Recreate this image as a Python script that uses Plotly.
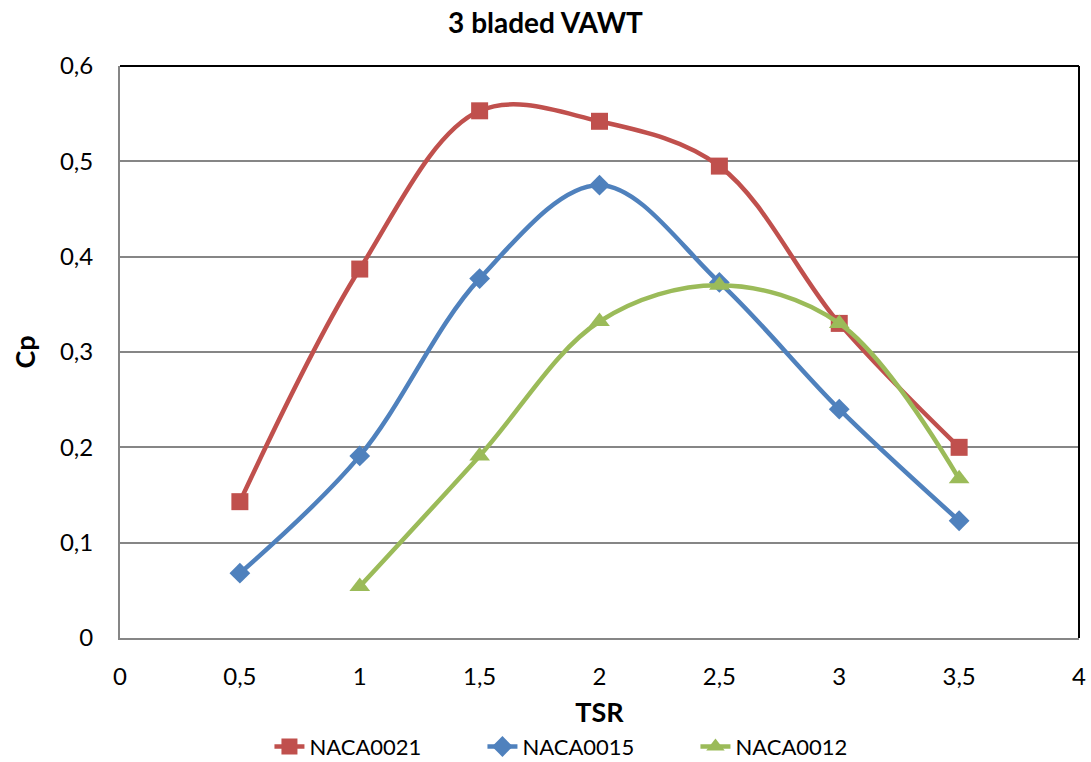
import plotly.graph_objects as go

tsr = [0.5, 1, 1.5, 2, 2.5, 3, 3.5]
naca0021 = [0.143, 0.387, 0.553, 0.542, 0.495, 0.330, 0.200]
naca0015 = [0.068, 0.191, 0.377, 0.475, 0.373, 0.240, 0.123]
tsr_0012 = [1, 1.5, 2, 2.5, 3, 3.5]
naca0012 = [0.054, 0.191, 0.332, 0.370, 0.330, 0.167]

x_ticks = [0, 0.5, 1, 1.5, 2, 2.5, 3, 3.5, 4]
x_labels = ["0", "0,5", "1", "1,5", "2", "2,5", "3", "3,5", "4"]
y_ticks = [0, 0.1, 0.2, 0.3, 0.4, 0.5, 0.6]
y_labels = ["0", "0,1", "0,2", "0,3", "0,4", "0,5", "0,6"]

FONT = "Lato, Open Sans, sans-serif"

fig = go.Figure()
fig.add_trace(go.Scatter(x=tsr, y=naca0021, name="NACA0021", mode="lines+markers",
                         line=dict(color="#C0504D", width=4.5, shape="spline"),
                         marker=dict(symbol="square", size=17, color="#C0504D")))
fig.add_trace(go.Scatter(x=tsr, y=naca0015, name="NACA0015", mode="lines+markers",
                         line=dict(color="#4F81BD", width=4.5, shape="spline"),
                         marker=dict(symbol="diamond", size=16, color="#4F81BD")))
fig.add_trace(go.Scatter(x=tsr_0012, y=naca0012, name="NACA0012", mode="lines+markers",
                         line=dict(color="#9BBB59", width=4.5, shape="spline"),
                         marker=dict(symbol="triangle-up", size=18, color="#9BBB59")))

fig.update_layout(
    width=1091, height=762,
    margin=dict(l=120, r=12, t=66, b=124, autoexpand=False),
    paper_bgcolor="white", plot_bgcolor="white",
    font=dict(family=FONT, size=24, color="black"),
    title=dict(text="<b>3 bladed VAWT</b>", x=0.5, xanchor="center", y=0.970, yanchor="middle",
               font=dict(size=28)),
    xaxis=dict(range=[0, 4], tickvals=x_ticks, ticktext=x_labels, showgrid=False,
               showline=True, linecolor="#868686", linewidth=2, ticks="outside",
               ticklen=16, tickcolor="rgba(0,0,0,0)", zeroline=False, automargin=False,
               title=dict(text="<b>TSR</b>", standoff=14, font=dict(size=27))),
    yaxis=dict(range=[0, 0.6], tickvals=y_ticks, ticktext=y_labels, showgrid=True,
               gridcolor="#868686", gridwidth=2, showline=True, linecolor="#868686",
               linewidth=2, ticks="outside", ticklen=20, tickcolor="rgba(0,0,0,0)", zeroline=False,
               automargin=False,
               title=dict(text="<b>Cp</b>", standoff=16, font=dict(size=27))),
    legend=dict(orientation="h", x=0.489, xanchor="center", y=-0.19, yanchor="middle",
                font=dict(size=22), tracegroupgap=0, entrywidth=168),
    showlegend=True,
)
fig.add_shape(type="line", xref="paper", yref="paper", x0=0, x1=1, y0=1, y1=1,
              line=dict(color="black", width=2))
fig.add_shape(type="line", xref="paper", yref="paper", x0=1, x1=1, y0=0, y1=1,
              line=dict(color="black", width=2))

fig.write_html("out.html")
